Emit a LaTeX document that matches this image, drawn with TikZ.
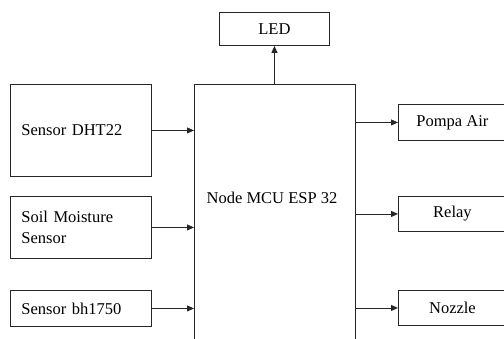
\documentclass[tikz,border=0pt]{standalone}
\usepackage{fontspec}
\setmainfont{Liberation Serif}
\usetikzlibrary{arrows.meta,positioning}
\tikzset{
  >={Triangle[length=7pt,width=6pt]},
  every node/.style={font=\fontsize{16.5}{21}\selectfont,text=black},
  blok/.style={draw=black!85,line width=0.9pt,inner sep=0pt,anchor=north west},
  inbox/.style={blok,align=left,inner xsep=11pt,text width=119pt},
  outbox/.style={blok,align=center},
  arrow/.style={->,line width=0.9pt,draw=black!85}
}
\begin{document}
\begin{tikzpicture}[x=1pt,y=-1pt]
  \clip (0,0) rectangle (504,338);
  % inputs
  \node[inbox,minimum height=92pt] (dht) at (10,84) {Sensor DHT22};
  \node[inbox,minimum height=62pt] (soil) at (10,196) {Soil Moisture\\Sensor};
  \node[inbox,minimum height=36pt] (bh) at (10,290) {Sensor bh1750};

  % controller
  \node[blok,minimum width=161pt,minimum height=280pt] (mcu) at (194,84) {};
  \node (mcutext) at (272,198) {Node MCU ESP 32};

  % outputs
  \node[outbox,minimum width=110pt,minimum height=33pt] (led) at (219,12) {LED};
  \node[outbox,minimum width=108pt,minimum height=36pt] (pompa) at (398,104) {Pompa Air};
  \node[outbox,minimum width=108pt,minimum height=35pt] (relay) at (398,196) {Relay};
  \node[outbox,minimum width=108pt,minimum height=35pt] (nozzle) at (398,290) {Nozzle};

  \foreach \n in {dht,soil,bh} {\draw[arrow] (\n) -- (\n -| mcu.west);}
  \foreach \n in {pompa,relay,nozzle} {\draw[arrow] (\n -| mcu.east) -- (\n.west);}
  \draw[arrow] (led.south |- mcu.north) -- (led.south);
\end{tikzpicture}
\end{document}
